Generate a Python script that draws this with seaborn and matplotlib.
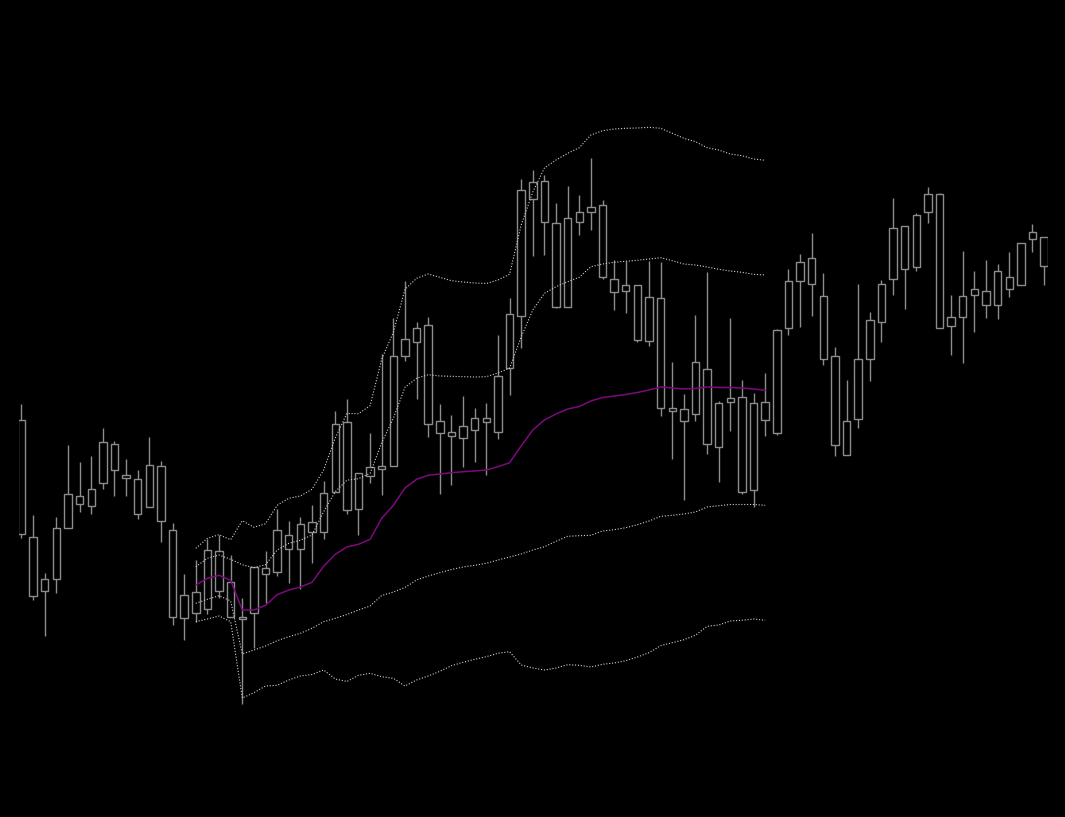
# =========================================================
# CANDLESTICK CHART WITH BOLLINGER STYLE BANDS
# =========================================================

import numpy as np
import pandas as pd
import matplotlib
matplotlib.use("Agg")
import matplotlib.pyplot as plt
import seaborn as sns

# =========================================================
# CANDLE DATA (89 sessions)
# =========================================================

opens = [
    380, 263, 209.3, 220.7, 271.7, 295.7, 294.3, 316.7, 355.7, 324.7,
    286.3, 334.7, 333.7, 269.7, 181.7, 186.7, 191.3, 248.7, 217.7, 180.7,
    186.7, 225.7, 227.7, 250.7, 250.7, 267.7, 267.7, 307.7, 377.7, 290.7,
    323.7, 330.7, 333.7, 443.7, 471.7, 474.7, 378.7, 363.7, 361.7, 369.7,
    377.7, 367.7, 431.7, 484.3, 617.7, 618.7, 576.7, 492.7, 577.7, 592.7,
    594.7, 520.7, 514.7, 514.7, 502.7, 501.7, 391.7, 378.7, 437.7, 430.7,
    352.7, 401.7, 402.7, 309.7, 379.7, 366.7, 471.7, 518.7, 541.7, 503.7,
    443.7, 344.7, 380.7, 440.7, 477.7, 520.7, 530.7, 532.7, 587.7, 605.7,
    473.7, 482.7, 510.7, 494.7, 494.7, 510.7, 514.7, 567.7, 562.7,
]

closes = [
    265.7, 204.3, 220.7, 271.7, 305.7, 303.7, 310.7, 357.7, 329.7, 321.7,
    320.7, 292.7, 278.7, 182.7, 204.7, 207.7, 249.7, 209.3, 183.3, 183.3,
    232.7, 231.7, 270, 265.3, 275.7, 277.7, 306.7, 375.7, 289.7, 326.7,
    332.7, 333.7, 443.7, 460.7, 457.7, 375.7, 366.7, 367.7, 373.7, 381.7,
    381.7, 423.7, 485.7, 609.7, 600.7, 577.7, 493.3, 581.7, 587.7, 587.7,
    522.7, 507.7, 508.7, 459.7, 458.7, 391.7, 388.7, 390.7, 385.7, 355.7,
    396.7, 397.7, 307.7, 396.7, 397.7, 469.7, 518.7, 537.7, 515.7, 440.7,
    354.7, 378.7, 440.7, 479.7, 515.7, 571.7, 573.7, 584.7, 605.7, 471.7,
    482.7, 503.7, 504.7, 508.7, 528.7, 522.7, 556.7, 560.7, 533.7,
]

highs = [
    396, 285, 227, 283, 355, 338, 344, 372, 359, 341,
    330, 363, 339, 277, 226, 239.7, 260.7, 265.3, 245, 201.7,
    232.7, 249, 291, 279, 282.7, 294.7, 319.3, 388.7, 400.7, 326.7,
    367, 446.3, 481.7, 518.7, 477.7, 482.7, 395.7, 384.7, 403.7, 391.7,
    396.7, 464.7, 501.7, 621, 629.7, 625, 596.7, 613.7, 604.7, 641.7,
    599.7, 539.7, 538.7, 514.7, 538.7, 537.7, 437.7, 405.7, 484.7, 527.7,
    398.7, 481.7, 419.7, 406.7, 426.7, 470.7, 531, 546, 567, 526.7,
    452.7, 419.7, 515.7, 487.7, 519.7, 601.7, 573.7, 586.7, 612.7, 606.7,
    504.7, 548.7, 528.7, 539.7, 535.7, 547.7, 556.7, 575.7, 562.7,
]

lows = [
    262.3, 200.3, 164, 207.3, 271.7, 288.3, 286.3, 311, 304, 304,
    281, 292.7, 258.3, 175.3, 160, 177.7, 185.7, 202, 183.3, 96,
    152.3, 196.7, 224.3, 217.3, 210.7, 237.3, 261.3, 307.7, 286.3, 265.3,
    317.3, 305.3, 333.7, 439.3, 400.7, 362.7, 305.7, 315.3, 332.7, 337.7,
    324.7, 360.7, 405, 452.3, 544.3, 545.3, 492.3, 492.7, 565.3, 570.3,
    521.3, 490.3, 487.3, 457.7, 454.3, 384.3, 341.3, 299.7, 378.7, 345.7,
    317.7, 369.3, 305.7, 292.7, 363.7, 364.7, 465.3, 473.3, 484.3, 435.3,
    344.3, 344.7, 372.3, 419.3, 458.3, 505.3, 491.3, 528.7, 576.7, 471.7,
    445.3, 437.3, 468.3, 482.3, 481.3, 503.3, 514.7, 547.7, 515.3,
]

# =========================================================
# BAND DATA (sessions 16 to 65)
# =========================================================

band_start = 15

middle_band = [
    215, 221.7, 224.7, 219.7, 190, 190, 194.7, 205.3, 210, 213,
    217.7, 233.7, 245.7, 253, 255.7, 260.7, 281.7, 294.7, 312, 320.7,
    324.7, 326, 327.3, 328.3, 329, 330, 333.3, 337.3, 354, 370,
    380, 386, 391, 393.5, 399, 402.5, 404, 405.5, 407.5, 410,
    413, 412, 411, 411.5, 413, 412.5, 412.5, 412, 411, 409.7,
]

upper_band_1 = [
    233.3, 241.7, 245, 240.7, 235.3, 232.3, 235.3, 250, 256.7, 259.7,
    265, 288.3, 308.3, 319.8, 321.3, 326.7, 357.3, 381.7, 412.7, 421.7,
    425.3, 424, 423.7, 423.3, 423, 423.3, 427, 431.8, 463, 490,
    506.7, 513.3, 518.3, 522.7, 533.3, 536, 537.7, 538.7, 539.7, 541,
    542.3, 539.3, 536, 535, 533, 530.7, 529, 527.7, 525.7, 525,
]

upper_band_2 = [
    251.7, 261.7, 265.3, 260.3, 279.3, 272.7, 276.3, 294.7, 301.7, 304,
    310.7, 330, 362, 386.5, 386.3, 394.3, 441, 467.7, 510.7, 521.7,
    526, 522.7, 519.3, 518, 517, 516.5, 520, 525.7, 575, 608,
    632, 640, 646.7, 652.3, 665, 669.3, 671, 671.7, 672, 672.7,
    671.7, 666.7, 661.7, 658.3, 652.3, 650, 646, 644.3, 641, 639.7,
]

lower_band_1 = [
    196.7, 200.7, 204.3, 199, 146, 150, 154, 159.3, 163.3, 166.7,
    171.7, 178.3, 181.7, 185.5, 190, 194, 204.5, 208, 212.5, 220,
    224, 227.3, 230.5, 233, 234.7, 236.7, 240, 243, 246, 250,
    253.3, 258.7, 263.7, 264.3, 264.7, 269, 270.3, 272.3, 275.3, 279,
    283.7, 284.7, 286, 288, 293, 294.3, 295.5, 295.5, 295.5, 294.7,
]

lower_band_2 = [
    178.3, 181, 184, 178.3, 102, 107.3, 114, 114.7, 120, 124,
    125.5, 130, 121, 118.5, 124.7, 126.7, 123.3, 121.7, 114, 120,
    124, 128.7, 134.3, 137.7, 140.7, 143.3, 146.7, 148.3, 135, 132,
    130, 132, 135.3, 134.7, 133, 135.7, 137, 139.3, 143, 147.3,
    154.3, 157.3, 160.3, 164.7, 173.7, 175, 179, 179.7, 181, 179.7,
]

# =========================================================
# BUILD DATAFRAMES
# =========================================================

candles = pd.DataFrame({
    "Open": opens,
    "Close": closes,
    "High": highs,
    "Low": lows
})
candles["Session"] = np.arange(len(candles))
candles["Top"] = candles[["Open", "Close"]].max(axis=1)
candles["Bottom"] = candles[["Open", "Close"]].min(axis=1)

bands = pd.DataFrame({
    "Middle": middle_band,
    "Upper1": upper_band_1,
    "Upper2": upper_band_2,
    "Lower1": lower_band_1,
    "Lower2": lower_band_2
})
bands["Session"] = np.arange(len(bands)) + band_start

# =========================================================
# FIGURE
# =========================================================

sns.set_style("dark")

fig = plt.figure(figsize=(10.65, 8.17), dpi=100, facecolor="black")
ax = fig.add_axes([19.3 / 1065, 0, (1047.7 - 19.3) / 1065, 1])
ax.set_facecolor("black")

candle_color = "#8c8c8c"
band_color = "#d2d2d2"

# wicks
ax.vlines(
    candles["Session"],
    candles["Low"],
    candles["High"],
    color=candle_color,
    linewidth=1,
    zorder=2
)

# hollow bodies
ax.bar(
    candles["Session"],
    candles["Top"] - candles["Bottom"],
    bottom=candles["Bottom"],
    width=0.64,
    facecolor="black",
    edgecolor=candle_color,
    linewidth=1,
    zorder=3
)

# dotted bands
for col in ["Upper2", "Upper1", "Lower1", "Lower2"]:
    sns.lineplot(
        data=bands,
        x="Session",
        y=col,
        ax=ax,
        color=band_color,
        linewidth=0.8,
        linestyle=(0, (1, 1.6)),
        zorder=4
    )

# middle band
sns.lineplot(
    data=bands,
    x="Session",
    y="Middle",
    ax=ax,
    color="#7d0a7d",
    linewidth=1.1,
    zorder=5
)

# =========================================================
# AXES CLEANUP
# =========================================================

ax.set_xlim(-0.189, 88.31)
ax.set_ylim(-17, 800)
ax.set_axis_off()

plt.savefig("out.png", dpi=100, facecolor="black")
